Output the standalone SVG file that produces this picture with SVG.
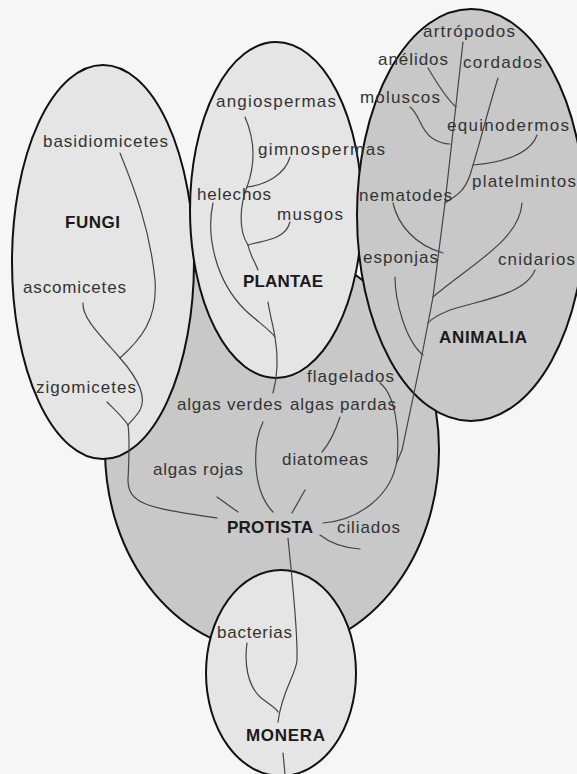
<svg xmlns="http://www.w3.org/2000/svg" width="577" height="774" viewBox="0 0 577 774">
<style>
.bg{fill:#f6f6f6}
.light{fill:#e5e5e5;stroke:#111;stroke-width:2}
.dark{fill:#c8c8c8;stroke:#111;stroke-width:2}
.t{font-family:"Liberation Sans",Arial,sans-serif;font-size:17px;fill:#333}
.k{font-family:"Liberation Sans",Arial,sans-serif;font-size:17px;font-weight:bold;fill:#1a1a1a}
.c path{fill:none;stroke:#444;stroke-width:1.2;stroke-linecap:round}
</style>
<rect class="bg" x="0" y="0" width="577" height="774"/>
<g id="protista">
<ellipse class="dark" cx="272" cy="450" rx="167" ry="202"/>
<text class="k" x="227" y="533" textLength="86" lengthAdjust="spacing">PROTISTA</text>
</g>
<g id="fungi">
<ellipse class="light" cx="103" cy="262" rx="91" ry="197"/>
<text class="k" x="65" y="228" textLength="55" lengthAdjust="spacing">FUNGI</text>
</g>
<g id="plantae">
<ellipse class="light" cx="276" cy="210" rx="86" ry="168"/>
<text class="k" x="243" y="287" textLength="80" lengthAdjust="spacing">PLANTAE</text>
</g>
<g id="animalia">
<ellipse class="dark" cx="471" cy="215" rx="114" ry="206"/>
<text class="k" x="439" y="343" textLength="88" lengthAdjust="spacing">ANIMALIA</text>
</g>
<g id="monera">
<ellipse class="light" cx="281" cy="673" rx="75" ry="103"/>
<text class="k" x="246" y="741" textLength="79" lengthAdjust="spacing">MONERA</text>
</g>
<g id="connectors" class="c">
<path d="M120,153 C135,190 150,230 155,280 C158,320 140,340 120,358"/>
<path d="M83,303 C82,318 100,335 120,358 C135,375 148,395 140,410 C136,417 131,421 128,425"/>
<path d="M107,402 C115,410 124,418 128,425"/>
<path d="M128,425 C130,440 129,460 128,480 C128,505 150,508 217,518"/>
<path d="M245,117 C255,140 255,165 247,187"/>
<path d="M290,157 C285,175 265,185 247,187"/>
<path d="M247,187 C240,205 238,230 248,245"/>
<path d="M290,222 C285,240 265,240 248,245"/>
<path d="M248,245 C250,255 255,262 258,270"/>
<path d="M213,203 C206,235 215,280 245,310 C258,322 270,330 275,337"/>
<path d="M268,302 C270,315 273,325 275,337 C278,355 278,375 273,393"/>
<path d="M263,422 C252,445 252,490 273,512"/>
<path d="M217,497 L238,512"/>
<path d="M340,417 C335,432 330,443 322,452"/>
<path d="M305,490 L292,513"/>
<path d="M380,383 C395,395 400,430 397,460 C392,495 360,520 323,523"/>
<path d="M320,535 C330,543 345,548 360,549"/>
<path d="M288,538 C292,580 298,630 297,660 C296,675 282,690 278,722"/>
<path d="M247,643 C244,665 248,685 260,697 C270,705 276,708 278,712"/>
<path d="M283,753 L285,774"/>
<path d="M463,42 L445,203 L433,297 L422,355 L402,450 L397,462"/>
<path d="M428,68 C438,85 448,100 456,107"/>
<path d="M410,107 C420,115 420,130 432,138 C438,142 445,144 450,144"/>
<path d="M498,78 C488,110 478,150 470,175 C465,190 458,195 445,203"/>
<path d="M537,135 C530,155 500,163 473,165"/>
<path d="M393,203 C398,225 415,245 443,253"/>
<path d="M522,203 C520,240 470,265 433,297"/>
<path d="M535,270 C525,295 480,300 450,310 C440,314 432,318 428,323"/>
<path d="M395,277 C395,300 405,340 423,355"/>
</g>
<g id="basidiomicetes"><text class="t" x="43" y="147" textLength="125" lengthAdjust="spacing">basidiomicetes</text></g>
<g id="ascomicetes"><text class="t" x="23" y="293" textLength="103" lengthAdjust="spacing">ascomicetes</text></g>
<g id="zigomicetes"><text class="t" x="36" y="393" textLength="100" lengthAdjust="spacing">zigomicetes</text></g>
<g id="angiospermas"><text class="t" x="216" y="107" textLength="120" lengthAdjust="spacing">angiospermas</text></g>
<g id="gimnospermas"><text class="t" x="258" y="155" textLength="127" lengthAdjust="spacing">gimnospermas</text></g>
<g id="helechos"><text class="t" x="197" y="200" textLength="74" lengthAdjust="spacing">helechos</text></g>
<g id="musgos"><text class="t" x="277" y="220" textLength="66" lengthAdjust="spacing">musgos</text></g>
<g id="artropodos"><text class="t" x="423" y="37" textLength="92" lengthAdjust="spacing">artrópodos</text></g>
<g id="anelidos"><text class="t" x="378" y="65" textLength="70" lengthAdjust="spacing">anélidos</text></g>
<g id="cordados"><text class="t" x="463" y="68" textLength="79" lengthAdjust="spacing">cordados</text></g>
<g id="moluscos"><text class="t" x="360" y="103" textLength="80" lengthAdjust="spacing">moluscos</text></g>
<g id="equinodermos"><text class="t" x="447" y="131" textLength="122" lengthAdjust="spacing">equinodermos</text></g>
<g id="platelmintos"><text class="t" x="472" y="187" textLength="104" lengthAdjust="spacing">platelmintos</text></g>
<g id="nematodes"><text class="t" x="359" y="201" textLength="93" lengthAdjust="spacing">nematodes</text></g>
<g id="esponjas"><text class="t" x="363" y="263" textLength="75" lengthAdjust="spacing">esponjas</text></g>
<g id="cnidarios"><text class="t" x="498" y="265" textLength="77" lengthAdjust="spacing">cnidarios</text></g>
<g id="flagelados"><text class="t" x="307" y="382" textLength="87" lengthAdjust="spacing">flagelados</text></g>
<g id="algas-verdes"><text class="t" x="177" y="410" textLength="105" lengthAdjust="spacing">algas verdes</text></g>
<g id="algas-pardas"><text class="t" x="290" y="410" textLength="106" lengthAdjust="spacing">algas pardas</text></g>
<g id="algas-rojas"><text class="t" x="153" y="475" textLength="90" lengthAdjust="spacing">algas rojas</text></g>
<g id="diatomeas"><text class="t" x="282" y="465" textLength="86" lengthAdjust="spacing">diatomeas</text></g>
<g id="ciliados"><text class="t" x="337" y="533" textLength="63" lengthAdjust="spacing">ciliados</text></g>
<g id="bacterias"><text class="t" x="217" y="638" textLength="75" lengthAdjust="spacing">bacterias</text></g>
</svg>
